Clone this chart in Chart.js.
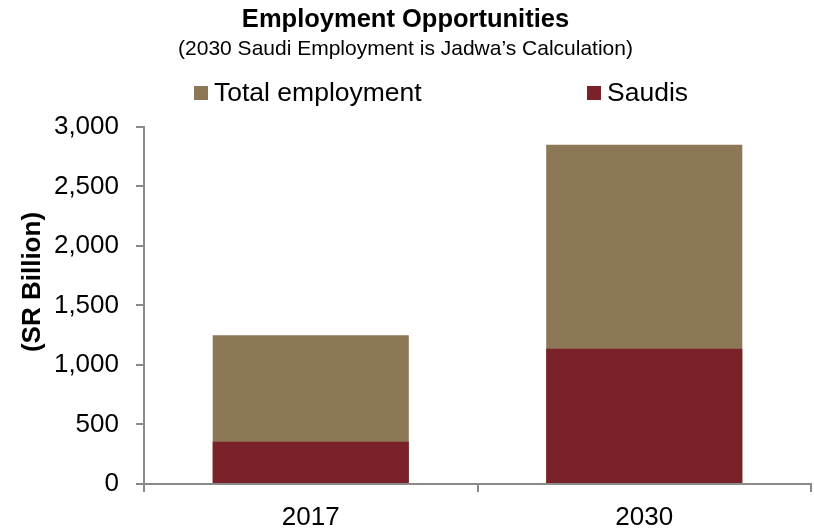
<!DOCTYPE html>
<html>
<head>
<meta charset="utf-8">
<title>Employment Opportunities</title>
<script src="https://cdn.jsdelivr.net/npm/chart.js@4"></script>
<style>
    html, body { margin: 0; padding: 0; background: #fff; }
    #wrap { position: relative; width: 814px; height: 529px; }
    #legend {
        position: absolute; left: 0; top: 77px; width: 814px; height: 30px;
        font-family: "Liberation Sans", Arial, sans-serif; font-size: 26.5px; color: #000;
    }
    .item { position: absolute; top: 0; line-height: 30px; white-space: nowrap; }
    .box { display: inline-block; width: 14px; height: 14px; margin-right: 6px; vertical-align: 1px; }
    #yTitle {
        position: absolute; left: 31px; top: 282px; width: 200px; margin-left: -100px;
        line-height: 30px; margin-top: -15px; text-align: center;
        transform: rotate(-90deg);
        font-family: "Liberation Sans", Arial, sans-serif; font-size: 26px; font-weight: bold; color: #000;
        white-space: nowrap;
    }
</style>
</head>
<body>
<div id="wrap">
    <canvas id="jobsChart" width="814" height="529"></canvas>
    <div id="legend"></div>
    <div id="yTitle"></div>
</div>
<script>
// Chart data
const years = ["2017", "2030"];
const totalEmployment = [1250, 2850];
const saudis = [355, 1135];

const seriesNames = ["Total employment", "Saudis"];
const seriesColors = ["#8C7756", "#7B2129"];
const legendLeft = [194, 587];

const yTicks = [0, 500, 1000, 1500, 2000, 2500, 3000];
const yAxisTitle = "(SR Billion)";

const axisGray = "#8a8a8a";
const fontFamily = "'Liberation Sans', Arial, sans-serif";

// Build HTML legend
const legendEl = document.getElementById("legend");
seriesNames.forEach((name, i) => {
    const item = document.createElement("div");
    item.className = "item";
    item.style.left = legendLeft[i] + "px";
    item.innerHTML = '<span class="box" style="background:' + seriesColors[i] + '"></span>' + name;
    legendEl.appendChild(item);
});

// y axis title sits above the axis middle in the original, so it is placed by hand
document.getElementById("yTitle").textContent = yAxisTitle;

// Saudis drawn in front of total employment (bars overlap, not summed)
const jobsChart = new Chart(document.getElementById("jobsChart"), {
    type: "bar",
    data: {
        labels: years,
        datasets: [
            {
                label: seriesNames[1],
                data: saudis,
                backgroundColor: seriesColors[1],
                borderWidth: 0
            },
            {
                label: seriesNames[0],
                data: totalEmployment,
                backgroundColor: seriesColors[0],
                borderWidth: 0
            }
        ]
    },
    options: {
        responsive: false,
        animation: false,
        barPercentage: 0.588,
        categoryPercentage: 1,
        layout: { padding: { left: 0, right: 3, top: 0, bottom: 0 } },
        plugins: {
            legend: { display: false },
            tooltip: { enabled: false },
            title: {
                display: true,
                text: "Employment Opportunities",
                color: "#000",
                font: { family: fontFamily, size: 25.5, weight: "bold" },
                padding: { top: 5, bottom: 1 }
            },
            subtitle: {
                display: true,
                text: "(2030 Saudi Employment is Jadwa\u2019s Calculation)",
                color: "#000",
                font: { family: fontFamily, size: 21 },
                padding: { top: 0, bottom: 65 }
            }
        },
        scales: {
            x: {
                stacked: true,
                border: { color: axisGray, width: 2 },
                grid: {
                    offset: true,
                    drawOnChartArea: false,
                    color: axisGray,
                    lineWidth: 2,
                    tickLength: 8
                },
                ticks: {
                    color: "#000",
                    padding: 10,
                    font: { family: fontFamily, size: 26 }
                },
                afterFit: scale => { scale.height = 45; }
            },
            y: {
                stacked: false,
                min: 0,
                max: 3000,
                border: { color: axisGray, width: 2 },
                grid: {
                    drawOnChartArea: false,
                    color: axisGray,
                    lineWidth: 2,
                    tickLength: 8
                },
                afterBuildTicks: scale => {
                    scale.ticks = yTicks.map(v => ({ value: v }));
                },
                ticks: {
                    color: "#000",
                    padding: 17,
                    font: { family: fontFamily, size: 26 },
                    callback: v => v.toLocaleString("en-US")
                },
                afterFit: scale => { scale.width = 144; }
            }
        }
    }
});
</script>
</body>
</html>
